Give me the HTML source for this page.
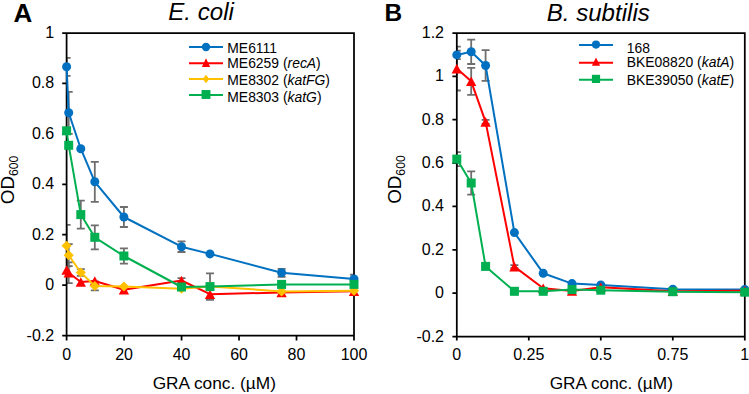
<!DOCTYPE html>
<html><head><meta charset="utf-8"><title>OD600 vs GRA concentration</title>
<style>
html,body{margin:0;padding:0;background:#fff;}
body{width:749px;height:394px;overflow:hidden;}
svg{display:block;font-family:"Liberation Sans", sans-serif;}
text{fill:#000;}
</style></head><body>
<svg width="749" height="394" viewBox="0 0 749 394">
<rect width="749" height="394" fill="#fff"/>
<defs><clipPath id="cl"><rect x="66.6" y="33" width="287.4" height="302.6"/></clipPath><clipPath id="cr"><rect x="456.8" y="33" width="288" height="303.6"/></clipPath></defs>
<text x="13.4" y="21.8" font-size="26" text-anchor="start" font-weight="bold">A</text>
<text x="384.5" y="21.3" font-size="24.5" text-anchor="start" font-weight="bold">B</text>
<text x="168.3" y="19.9" font-size="24.1" text-anchor="start" font-style="italic">E. coli</text>
<text x="546.7" y="20.6" font-size="24.1" text-anchor="start" font-style="italic">B. subtilis</text>
<path clip-path="url(#cl)" d="M66.6 57.8V75.8M62.6 57.8H70.6M62.6 75.8H70.6M68.7 91.8V133.8M64.7 91.8H72.7M64.7 133.8H72.7M94.8 161.8V201.8M90.8 161.8H98.8M90.8 201.8H98.8M123.9 207V227M119.9 207H127.9M119.9 227H127.9M181.5 241.4V252M177.5 241.4H185.5M177.5 252H185.5M281.6 268.8V276.8M277.6 268.8H285.6M277.6 276.8H285.6M354 274.7V283.3M350 274.7H358M350 283.3H358" stroke="#6E6E6E" stroke-width="1.8" fill="none"/>
<path clip-path="url(#cl)" d="M66.6 266V274M62.6 266H70.6M62.6 274H70.6M68.7 262.4V283.2M64.7 262.4H72.7M64.7 283.2H72.7M181.5 278.2V282.8M177.5 278.2H185.5M177.5 282.8H185.5M210 289.4V299M206 289.4H214M206 299H214" stroke="#6E6E6E" stroke-width="1.8" fill="none"/>
<path clip-path="url(#cl)" d="M66.6 224.9V266.5M62.6 224.9H70.6M62.6 266.5H70.6M68.7 244.2V266.2M64.7 244.2H72.7M64.7 266.2H72.7M80.8 269.1V275.9M76.8 269.1H84.8M76.8 275.9H84.8M94.8 281.4V290.4M90.8 281.4H98.8M90.8 290.4H98.8" stroke="#6E6E6E" stroke-width="1.8" fill="none"/>
<path clip-path="url(#cl)" d="M80.8 200.6V228.6M76.8 200.6H84.8M76.8 228.6H84.8M94.8 225.3V249.3M90.8 225.3H98.8M90.8 249.3H98.8M123.9 248.4V263.6M119.9 248.4H127.9M119.9 263.6H127.9M210 273.3V299.9M206 273.3H214M206 299.9H214" stroke="#6E6E6E" stroke-width="1.8" fill="none"/>
<path clip-path="url(#cr)" d="M456.8 50.7V59.1M452.8 50.7H460.8M452.8 59.1H460.8M471.2 39.6V64M467.2 39.6H475.2M467.2 64H475.2M485.6 50.2V80.8M481.6 50.2H489.6M481.6 80.8H489.6" stroke="#6E6E6E" stroke-width="1.8" fill="none"/>
<path clip-path="url(#cr)" d="M456.8 46.7V90.5M452.8 46.7H460.8M452.8 90.5H460.8M471.2 67.8V94.8M467.2 67.8H475.2M467.2 94.8H475.2M485.6 119.9V123.9M481.6 119.9H489.6M481.6 123.9H489.6M514.4 265.1V268.1M510.4 265.1H518.4M510.4 268.1H518.4" stroke="#6E6E6E" stroke-width="1.8" fill="none"/>
<path clip-path="url(#cr)" d="M456.8 152.1V166.1M452.8 152.1H460.8M452.8 166.1H460.8M471.2 171.3V194.7M467.2 171.3H475.2M467.2 194.7H475.2" stroke="#6E6E6E" stroke-width="1.8" fill="none"/>
<path d="M66.6 33H354V335.6H66.6ZM62.2 33H66.6M62.2 83.43H66.6M62.2 133.87H66.6M62.2 184.3H66.6M62.2 234.73H66.6M62.2 285.17H66.6M62.2 335.6H66.6M66.6 335.6V340.6M124.08 335.6V340.6M181.56 335.6V340.6M239.04 335.6V340.6M296.52 335.6V340.6M354 335.6V340.6M456.8 33H744.8V336.6H456.8ZM452.4 33H456.8M452.4 76.37H456.8M452.4 119.74H456.8M452.4 163.11H456.8M452.4 206.49H456.8M452.4 249.86H456.8M452.4 293.23H456.8M452.4 336.6H456.8M456.8 336.6V340.6M528.8 336.6V340.6M600.8 336.6V340.6M672.8 336.6V340.6M744.8 336.6V340.6" stroke="#000000" stroke-width="1.75" fill="none"/>
<polyline points="66.6,66.8 68.7,112.8 80.8,148.7 94.8,181.8 123.9,217 181.5,246.7 210,253.9 281.6,272.8 354,279" fill="none" stroke="#0070C0" stroke-width="2.0" stroke-linejoin="round"/>
<circle cx="66.6" cy="66.8" r="4.5" fill="#0070C0"/>
<circle cx="68.7" cy="112.8" r="4.5" fill="#0070C0"/>
<circle cx="80.8" cy="148.7" r="4.5" fill="#0070C0"/>
<circle cx="94.8" cy="181.8" r="4.5" fill="#0070C0"/>
<circle cx="123.9" cy="217" r="4.5" fill="#0070C0"/>
<circle cx="181.5" cy="246.7" r="4.5" fill="#0070C0"/>
<circle cx="210" cy="253.9" r="4.5" fill="#0070C0"/>
<circle cx="281.6" cy="272.8" r="4.5" fill="#0070C0"/>
<circle cx="354" cy="279" r="4.5" fill="#0070C0"/>
<polyline points="66.6,270 68.7,272.8 80.8,282 94.8,281 123.9,289.7 181.5,280.5 210,294.2 281.6,292.5 354,291.3" fill="none" stroke="#FF0000" stroke-width="2.0" stroke-linejoin="round"/>
<polygon points="66.6,265.2 71.75,274.8 61.45,274.8" fill="#FF0000"/>
<polygon points="68.7,268 73.85,277.6 63.55,277.6" fill="#FF0000"/>
<polygon points="80.8,277.2 85.95,286.8 75.65,286.8" fill="#FF0000"/>
<polygon points="94.8,276.2 99.95,285.8 89.65,285.8" fill="#FF0000"/>
<polygon points="123.9,284.9 129.05,294.5 118.75,294.5" fill="#FF0000"/>
<polygon points="181.5,275.7 186.65,285.3 176.35,285.3" fill="#FF0000"/>
<polygon points="210,289.4 215.15,299 204.85,299" fill="#FF0000"/>
<polygon points="281.6,287.7 286.75,297.3 276.45,297.3" fill="#FF0000"/>
<polygon points="354,286.5 359.15,296.1 348.85,296.1" fill="#FF0000"/>
<polyline points="66.6,245.7 68.7,255.2 80.8,272.5 94.8,285.9 123.9,286.4 181.5,288.8 210,286.4 281.6,291.4 354,290.8" fill="none" stroke="#FFC000" stroke-width="2.0" stroke-linejoin="round"/>
<polygon points="66.6,240.7 71.7,245.7 66.6,250.7 61.5,245.7" fill="#FFC000"/>
<polygon points="68.7,250.2 73.8,255.2 68.7,260.2 63.6,255.2" fill="#FFC000"/>
<polygon points="80.8,267.5 85.9,272.5 80.8,277.5 75.7,272.5" fill="#FFC000"/>
<polygon points="94.8,280.9 99.9,285.9 94.8,290.9 89.7,285.9" fill="#FFC000"/>
<polygon points="123.9,281.4 129,286.4 123.9,291.4 118.8,286.4" fill="#FFC000"/>
<polygon points="181.5,283.8 186.6,288.8 181.5,293.8 176.4,288.8" fill="#FFC000"/>
<polygon points="210,281.4 215.1,286.4 210,291.4 204.9,286.4" fill="#FFC000"/>
<polygon points="281.6,286.4 286.7,291.4 281.6,296.4 276.5,291.4" fill="#FFC000"/>
<polygon points="354,285.8 359.1,290.8 354,295.8 348.9,290.8" fill="#FFC000"/>
<polyline points="66.6,130.8 68.7,145.3 80.8,214.6 94.8,237.3 123.9,256 181.5,287 210,286.6 281.6,284.4 354,284.4" fill="none" stroke="#00B050" stroke-width="2.0" stroke-linejoin="round"/>
<rect x="62.1" y="126.3" width="9" height="9" fill="#00B050"/>
<rect x="64.2" y="140.8" width="9" height="9" fill="#00B050"/>
<rect x="76.3" y="210.1" width="9" height="9" fill="#00B050"/>
<rect x="90.3" y="232.8" width="9" height="9" fill="#00B050"/>
<rect x="119.4" y="251.5" width="9" height="9" fill="#00B050"/>
<rect x="177" y="282.5" width="9" height="9" fill="#00B050"/>
<rect x="205.5" y="282.1" width="9" height="9" fill="#00B050"/>
<rect x="277.1" y="279.9" width="9" height="9" fill="#00B050"/>
<rect x="349.5" y="279.9" width="9" height="9" fill="#00B050"/>
<polyline points="456.8,54.9 471.2,51.8 485.6,65.5 514.4,232.6 543.2,273.2 572,283.6 600.8,285 672.8,289.3 744.8,289.4" fill="none" stroke="#0070C0" stroke-width="2.0" stroke-linejoin="round"/>
<circle cx="456.8" cy="54.9" r="4.5" fill="#0070C0"/>
<circle cx="471.2" cy="51.8" r="4.5" fill="#0070C0"/>
<circle cx="485.6" cy="65.5" r="4.5" fill="#0070C0"/>
<circle cx="514.4" cy="232.6" r="4.5" fill="#0070C0"/>
<circle cx="543.2" cy="273.2" r="4.5" fill="#0070C0"/>
<circle cx="572" cy="283.6" r="4.5" fill="#0070C0"/>
<circle cx="600.8" cy="285" r="4.5" fill="#0070C0"/>
<circle cx="672.8" cy="289.3" r="4.5" fill="#0070C0"/>
<circle cx="744.8" cy="289.4" r="4.5" fill="#0070C0"/>
<polyline points="456.8,68.6 471.2,81.3 485.6,121.9 514.4,266.6 543.2,288.3 572,291 600.8,287.3 672.8,291.3 744.8,290.7" fill="none" stroke="#FF0000" stroke-width="2.0" stroke-linejoin="round"/>
<polygon points="456.8,63.8 461.95,73.4 451.65,73.4" fill="#FF0000"/>
<polygon points="471.2,76.5 476.35,86.1 466.05,86.1" fill="#FF0000"/>
<polygon points="485.6,117.1 490.75,126.7 480.45,126.7" fill="#FF0000"/>
<polygon points="514.4,261.8 519.55,271.4 509.25,271.4" fill="#FF0000"/>
<polygon points="543.2,283.5 548.35,293.1 538.05,293.1" fill="#FF0000"/>
<polygon points="572,286.2 577.15,295.8 566.85,295.8" fill="#FF0000"/>
<polygon points="600.8,282.5 605.95,292.1 595.65,292.1" fill="#FF0000"/>
<polygon points="672.8,286.5 677.95,296.1 667.65,296.1" fill="#FF0000"/>
<polygon points="744.8,285.9 749.95,295.5 739.65,295.5" fill="#FF0000"/>
<polyline points="456.8,159.1 471.2,183 485.6,266.4 514.4,291.3 543.2,291.3 572,289.6 600.8,290.2 672.8,291.7 744.8,292.2" fill="none" stroke="#00B050" stroke-width="2.0" stroke-linejoin="round"/>
<rect x="452.3" y="154.6" width="9" height="9" fill="#00B050"/>
<rect x="466.7" y="178.5" width="9" height="9" fill="#00B050"/>
<rect x="481.1" y="261.9" width="9" height="9" fill="#00B050"/>
<rect x="509.9" y="286.8" width="9" height="9" fill="#00B050"/>
<rect x="538.7" y="286.8" width="9" height="9" fill="#00B050"/>
<rect x="567.5" y="285.1" width="9" height="9" fill="#00B050"/>
<rect x="596.3" y="285.7" width="9" height="9" fill="#00B050"/>
<rect x="668.3" y="287.2" width="9" height="9" fill="#00B050"/>
<rect x="740.3" y="287.7" width="9" height="9" fill="#00B050"/>
<text x="54.2" y="37.9" font-size="16" text-anchor="end" >1</text>
<text x="54.2" y="88.33" font-size="16" text-anchor="end" >0.8</text>
<text x="54.2" y="138.77" font-size="16" text-anchor="end" >0.6</text>
<text x="54.2" y="189.2" font-size="16" text-anchor="end" >0.4</text>
<text x="54.2" y="239.63" font-size="16" text-anchor="end" >0.2</text>
<text x="54.2" y="290.07" font-size="16" text-anchor="end" >0</text>
<text x="54.2" y="340.5" font-size="16" text-anchor="end" >-0.2</text>
<text x="66.6" y="359.6" font-size="16" text-anchor="middle" >0</text>
<text x="124.08" y="359.6" font-size="16" text-anchor="middle" >20</text>
<text x="181.56" y="359.6" font-size="16" text-anchor="middle" >40</text>
<text x="239.04" y="359.6" font-size="16" text-anchor="middle" >60</text>
<text x="296.52" y="359.6" font-size="16" text-anchor="middle" >80</text>
<text x="354" y="359.6" font-size="16" text-anchor="middle" >100</text>
<text x="444" y="37.9" font-size="16" text-anchor="end" >1.2</text>
<text x="444" y="81.27" font-size="16" text-anchor="end" >1</text>
<text x="444" y="124.64" font-size="16" text-anchor="end" >0.8</text>
<text x="444" y="168.01" font-size="16" text-anchor="end" >0.6</text>
<text x="444" y="211.39" font-size="16" text-anchor="end" >0.4</text>
<text x="444" y="254.76" font-size="16" text-anchor="end" >0.2</text>
<text x="444" y="298.13" font-size="16" text-anchor="end" >0</text>
<text x="444" y="341.5" font-size="16" text-anchor="end" >-0.2</text>
<text x="456.8" y="359.8" font-size="16" text-anchor="middle" >0</text>
<text x="528.8" y="359.8" font-size="16" text-anchor="middle" >0.25</text>
<text x="600.8" y="359.8" font-size="16" text-anchor="middle" >0.5</text>
<text x="672.8" y="359.8" font-size="16" text-anchor="middle" >0.75</text>
<text x="744.8" y="359.8" font-size="16" text-anchor="middle" >1</text>
<text x="214.3" y="388.8" font-size="17.3" text-anchor="middle" >GRA conc. (&#181;M)</text>
<text x="611.3" y="388.8" font-size="17.3" text-anchor="middle" >GRA conc. (&#181;M)</text>
<text transform="translate(13.5 204.2) rotate(-90)" font-size="18.8">OD<tspan font-size="12.2" dy="4.2">600</tspan></text>
<text transform="translate(400.8 203.8) rotate(-90)" font-size="18.8">OD<tspan font-size="12.2" dy="4.2">600</tspan></text>
<path d="M189 46.9H223" stroke="#0070C0" stroke-width="2.0"/>
<circle cx="206" cy="47" r="4.2" fill="#0070C0"/>
<text x="227.3" y="52.5" font-size="13.9" text-anchor="start" >ME6111</text>
<path d="M189 63.3H223" stroke="#FF0000" stroke-width="2.0"/>
<polygon points="206,58.3 210.15,67 201.85,67" fill="#FF0000"/>
<text x="227.3" y="67.6" font-size="13.9" text-anchor="start" >ME6259 (<tspan font-style="italic">recA</tspan>)</text>
<path d="M189 78.9H223" stroke="#FFC000" stroke-width="2.0"/>
<polygon points="206,74.85 209.3,79.05 206,83.25 202.7,79.05" fill="#FFC000"/>
<text x="227.3" y="84.9" font-size="13.9" text-anchor="start" >ME8302 (<tspan font-style="italic">katFG</tspan>)</text>
<path d="M189 95.1H223" stroke="#00B050" stroke-width="2.0"/>
<rect x="201.55" y="90.05" width="8.9" height="8.9" fill="#00B050"/>
<text x="227.3" y="102" font-size="13.9" text-anchor="start" >ME8303 (<tspan font-style="italic">katG</tspan>)</text>
<path d="M579 44.9H613" stroke="#0070C0" stroke-width="2.0"/>
<circle cx="596" cy="44.6" r="4.05" fill="#0070C0"/>
<text x="626.8" y="52.5" font-size="13.9" text-anchor="start" >168</text>
<path d="M579 62.7H613" stroke="#FF0000" stroke-width="2.0"/>
<polygon points="596,57.6 600.1,65.7 591.9,65.7" fill="#FF0000"/>
<text x="626.8" y="67.4" font-size="13.9" text-anchor="start" >BKE08820 (<tspan font-style="italic">katA</tspan>)</text>
<path d="M579 79.8H613" stroke="#00B050" stroke-width="2.0"/>
<rect x="591.9" y="74.8" width="8.2" height="8.2" fill="#00B050"/>
<text x="626.8" y="84.7" font-size="13.9" text-anchor="start" >BKE39050 (<tspan font-style="italic">katE</tspan>)</text>
</svg>
</body></html>
